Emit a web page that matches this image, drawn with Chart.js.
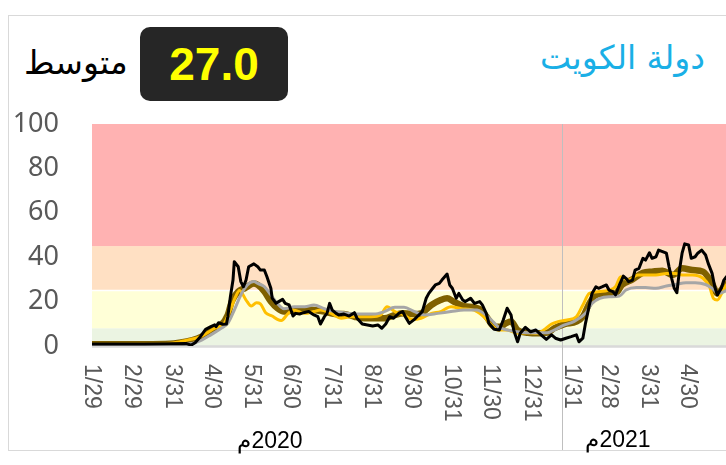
<!DOCTYPE html>
<html>
<head>
<meta charset="utf-8">
<script src="https://cdn.jsdelivr.net/npm/chart.js@4.4.1/dist/chart.umd.min.js"></script>
<style>
  html, body { margin: 0; padding: 0; background: #fff; width: 726px; height: 465px; overflow: hidden; }
  #card { position: absolute; left: 8px; top: 15px; width: 800px; height: 436px; border: 1px solid #d9d9d9; box-sizing: border-box; }
  #wrap { position: absolute; left: 0; top: 0; width: 780px; height: 465px; }
  .title { position: absolute; right: 21px; top: 41px; font: 33px "DejaVu Sans"; line-height: 1; color: #1aafe6; direction: rtl; white-space: nowrap; }
  .avg-box { position: absolute; left: 140px; top: 27px; width: 148px; height: 74px; border-radius: 10px; background: #262626;
             color: #ffff00; font: bold 46px "Liberation Sans"; line-height: 74px; text-align: center; }
  .avg-label { position: absolute; left: 24px; top: 46px; font: 33px "DejaVu Sans"; line-height: 1; color: #000; direction: rtl; white-space: nowrap; }
</style>
</head>
<body>
<div id="card"></div>
<div class="title">دولة الكويت</div>
<div class="avg-box">27.0</div>
<div class="avg-label">متوسط</div>
<div id="wrap"><canvas id="chart" width="780" height="465"></canvas></div>
<script>
// day index 0 = 1/29/2020
const tickDays = [0, 31, 62, 92, 123, 153, 184, 215, 245, 276, 306, 337, 368, 396, 427, 457];
const tickLabels = ['1/29', '2/29', '3/31', '4/30', '5/31', '6/30', '7/31', '8/31', '9/30', '10/31', '11/30', '12/31',
                    '1/31', '2/28', '3/31', '4/30'];
const yearLabels = ['2020م', '2021م'];
const yearDivider = 360;

// risk bands (lower edges) and colours
const bandEdges = [0, 8, 25, 45, 100];
const bandColors = ['#ebf4e2', '#ffffd7', '#ffe0c3', '#ffb2b2'];

// [day, value]
const dailySeries = [[0,0.9],[20,0.9],[40,0.9],[60,1.0],[72,1.1],[76,0.4],[79,1.5],[83,4.2],[87,7.5],[91,8.7],[94,9.5],[95,8.7],
  [97,10.5],[100,9.8],[103,9.9],[104,13.2],[106,22.2],[108,29.7],[109,38],[112,35.7],[114,29],[116,26.7],[118,29.7],[120,35.7],
  [124,37],[127,35.7],[129,34.2],[132,34.2],[134,31.2],[137,26],[138,21.6],[141,19.2],[143,20],[146,21],[148,19.2],[151,18.5],
  [154,13.5],[156,14.7],[159,14.4],[162,15],[166,15.5],[170,14],[173,13.2],[175,9.9],[178,13.2],[180,14.7],[182,19.2],[184,16.2],
  [187,14.7],[189,14],[193,14.4],[197,13.5],[201,15],[203,12.5],[207,9.9],[211,9.5],[215,9],[219,9.5],[222,8],[225,9.9],
  [228,13.2],[231,12.5],[235,14.7],[238,15.5],[240,13.2],[243,10.2],[247,12],[249,13.2],[253,15.5],[256,21.5],[258,23.7],
  [261,26],[263,27.5],[266,28.2],[268,29.7],[272,32.4],[274,27.5],[276,26],[279,21.5],[281,23.7],[284,20.7],[286,20],
  [290,21.5],[293,19.2],[297,20],[299,18.5],[302,14.7],[304,10.2],[308,7.5],[312,7.2],[315,11.7],[318,17],[321,14],[323,7.2],
  [326,1.9],[328,5.7],[332,8.4],[336,6.4],[340,7.2],[344,5],[348,3],[352,5],[355,3.5],[359,2.7],[363,3.5],[367,4.2],[371,5],
  [373,1.9],[376,3.5],[378,10.2],[381,18.5],[383,23.7],[386,26.7],[388,26],[391,26.7],[394,27.5],[396,25.2],[399,24.5],
  [401,23],[404,27.5],[407,31.5],[409,30.5],[411,29],[414,29.7],[416,34.2],[419,35],[422,39.5],[424,38.7],[427,42],
  [429,39.5],[432,40.2],[434,43.2],[437,42.5],[440,41.8],[442,35.7],[444,30.5],[446,26],[448,24],[450,34.2],[452,41.8],
  [454,46],[457,45.5],[459,39.5],[462,40.2],[464,41.8],[467,43.2],[470,41],[472,37.2],[475,32.7],[477,26.7],[479,23],
  [482,26],[484,29.7],[486,31.2],[490,33]];

const oliveSeries = [[0,0.8],[40,0.8],[60,1.0],[67,1.5],[76,2.5],[84,4.2],[91,7.2],[99,9.5],[104,14],[107,20],[112,24.5],
  [117,26],[124,28.2],[127,27.5],[132,24.5],[137,20],[142,17],[147,15.5],[155,16.2],[163,16.5],[170,16.2],[178,15.5],
  [186,14.4],[193,14.4],[201,13.2],[209,12.5],[216,12.5],[224,12.5],[232,14],[239,14.7],[247,14.4],[252,14.7],[260,18.5],
  [267,20.7],[272,21.5],[277,20],[285,18],[293,17.4],[298,16.2],[303,12.5],[308,8.7],[313,8.7],[317,10.2],[321,11],
  [326,7.2],[334,6],[341,5.7],[349,6],[354,8],[362,9.9],[371,11],[376,13.2],[381,19.2],[386,23],[394,23.7],[401,23.7],
  [406,27.5],[414,30],[422,33],[429,33.5],[437,33.9],[445,32],[452,35],[460,34.2],[468,33.5],[475,28.2],[479,23.7],
  [485,27.5],[490,30]];

const goldSeries = [[0,0.8],[40,0.9],[60,1.2],[71,2.4],[84,4.5],[94,8],[101,9.9],[106,16.2],[110,22.2],[113,25],[118,20.7],
  [122,18],[126,19.5],[129,19],[133,15],[138,13.5],[142,12],[145,11.5],[150,14.5],[154,16.2],[163,14.7],[170,15.5],
  [175,16.2],[183,14.7],[191,12.5],[198,13.2],[206,13.2],[214,13.2],[221,14],[226,17.7],[232,15.5],[239,14],[245,12],
  [252,12.5],[260,14.7],[267,15.5],[275,17.7],[283,16.8],[290,16.5],[295,15.5],[300,13.2],[306,9.5],[311,7.2],[318,7.2],
  [326,5.7],[334,6],[341,5.7],[346,7.2],[352,9.9],[357,11],[364,11.7],[371,13.2],[376,18.5],[381,23.7],[389,24.5],
  [396,25.2],[401,26.7],[405,31.2],[411,29.7],[418,32],[424,32],[432,32],[440,32.7],[447,32.7],[452,32],[460,32],
  [468,30.5],[473,26.7],[476,21.5],[479,20.7],[483,24.5],[486,27.5],[490,30]];

const graySeries = [[0,0.5],[60,0.6],[75,1],[84,2.7],[91,5],[99,8],[104,10.2],[109,16.2],[114,23],[119,27.5],[124,29],
  [127,28.2],[132,26.7],[137,23],[142,19.2],[147,16.8],[155,17.7],[163,17.7],[170,18.5],[178,16.8],[186,15.5],[193,15],
  [201,14.4],[209,14.4],[216,14.4],[224,15.5],[232,17.4],[239,17.4],[247,15.5],[255,14],[265,14.7],[275,15.5],[285,16.2],
  [295,16.2],[300,14.7],[306,11.7],[311,8.7],[318,7.2],[326,6.4],[334,6],[341,6],[349,6],[354,7.2],[362,9.5],[369,11],
  [378,14.7],[383,19.2],[389,21.5],[396,22.2],[404,22.5],[409,25.2],[417,26.3],[424,26.3],[432,26],[440,27],[447,27.7],
  [455,28.5],[462,28.5],[470,27.7],[475,26],[480,23.7],[486,25],[490,26]];

const toPoints = s => s.map(([x, y]) => ({ x, y }));

// bands, baseline and year divider under the lines
const backdrop = {
  id: 'backdrop',
  beforeDatasetsDraw(chart) {
    const { ctx, chartArea: a, scales: { x, y } } = chart;
    ctx.save();
    for (let i = 0; i < bandColors.length; i++) {
      const top = y.getPixelForValue(bandEdges[i + 1]);
      const bot = y.getPixelForValue(bandEdges[i]);
      ctx.fillStyle = bandColors[i];
      ctx.fillRect(a.left, top, a.right - a.left, bot - top);
    }
    // white gap above the yellow band
    ctx.strokeStyle = '#fff';
    ctx.lineWidth = 1.5;
    ctx.beginPath();
    ctx.moveTo(a.left, y.getPixelForValue(25));
    ctx.lineTo(a.right, y.getPixelForValue(25));
    ctx.stroke();
    // zero line
    ctx.strokeStyle = '#d9d9d9';
    ctx.lineWidth = 2.5;
    ctx.beginPath();
    ctx.moveTo(a.left, y.getPixelForValue(0) + 0.5);
    ctx.lineTo(a.right, y.getPixelForValue(0) + 0.5);
    ctx.stroke();
    // year divider
    const xd = Math.round(x.getPixelForValue(yearDivider)) + 0.5;
    ctx.strokeStyle = '#bfbfbf';
    ctx.lineWidth = 1;
    ctx.beginPath();
    ctx.moveTo(xd, a.top);
    ctx.lineTo(xd, 450);
    ctx.stroke();
    ctx.restore();
  },
  afterDraw(chart) {
    const { ctx, scales: { x } } = chart;
    ctx.save();
    // date labels, rotated to read top to bottom
    ctx.fillStyle = '#595959';
    ctx.font = '23px "Liberation Sans"';
    ctx.textAlign = 'left';
    ctx.textBaseline = 'middle';
    tickDays.forEach((d, i) => {
      ctx.save();
      ctx.translate(x.getPixelForValue(d) - 1, 364);
      ctx.rotate(Math.PI / 2);
      ctx.fillText(tickLabels[i], 0, 0);
      ctx.restore();
    });
    // year group labels
    ctx.fillStyle = '#000';
    ctx.font = '23px "Liberation Sans"';
    ctx.textAlign = 'center';
    ctx.textBaseline = 'alphabetic';
    ctx.direction = 'rtl';
    ctx.fillText(yearLabels[0], 270, 448);
    ctx.fillText(yearLabels[1], 618, 447);
    ctx.restore();
  }
};

new Chart(document.getElementById('chart'), {
  type: 'line',
  data: {
    datasets: [
      { data: toPoints(dailySeries), borderColor: '#000', borderWidth: 3, tension: 0 },
      { data: toPoints(graySeries), borderColor: '#a6a6a6', borderWidth: 3, cubicInterpolationMode: 'monotone' },
      { data: toPoints(goldSeries), borderColor: '#ffc000', borderWidth: 3, cubicInterpolationMode: 'monotone' },
      { data: toPoints(oliveSeries), borderColor: '#7f6000', borderWidth: 6.5, cubicInterpolationMode: 'monotone' }
    ]
  },
  options: {
    responsive: false,
    animation: false,
    events: [],
    layout: { padding: { top: 124, bottom: 119, left: 0, right: 0 } },
    elements: { point: { radius: 0 }, line: { borderJoinStyle: 'round', borderCapStyle: 'round' } },
    plugins: { legend: { display: false }, tooltip: { enabled: false } },
    scales: {
      x: {
        type: 'linear', min: 0, max: 527,
        grid: { display: false }, border: { display: false },
        ticks: { display: false },
        afterFit: s => { s.height = 0; }
      },
      y: {
        min: 0, max: 100,
        grid: { display: false }, border: { display: false },
        ticks: { stepSize: 20, padding: 25, color: '#595959', font: { family: 'Noto Sans', size: 27 } },
        afterFit: s => { s.width = 92; }
      }
    }
  },
  plugins: [backdrop]
});
</script>
</body>
</html>
